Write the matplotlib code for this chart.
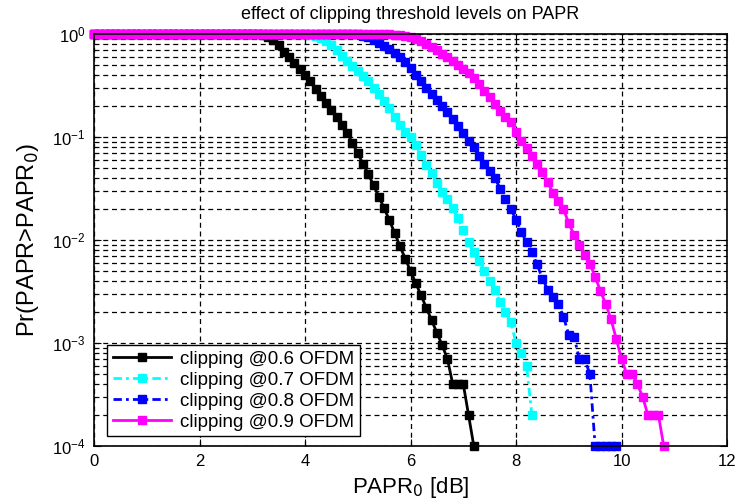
import matplotlib.pyplot as plt
import numpy as np
from matplotlib.ticker import LogLocator, NullFormatter, FixedLocator

# CCDF of PAPR, 0.1 dB step, starting at 0 dB
step = 0.1

ccdf_06 = [1.0] * 31 + [
    0.99, 0.977, 0.933, 0.871, 0.776, 0.676, 0.603, 0.525, 0.457, 0.398,
    0.347, 0.295, 0.251, 0.214, 0.182, 0.155, 0.132, 0.110, 0.0871, 0.0692,
    0.0550, 0.0437, 0.0339, 0.0263, 0.0204, 0.0155, 0.0117, 0.0087, 0.0066, 0.0050,
    0.0038, 0.0029, 0.0022, 0.00166, 0.00126, 0.00095, 0.0007, 0.0004, 0.0004, 0.0004,
    0.0002, 0.0001]

ccdf_07 = [1.0] * 41 + [
    0.977, 0.955, 0.912, 0.851, 0.776, 0.692, 0.617, 0.550, 0.490, 0.436,
    0.389, 0.347, 0.302, 0.263, 0.224, 0.191, 0.158, 0.132, 0.112, 0.100,
    0.0832, 0.0676, 0.0537, 0.0447, 0.0355, 0.0295, 0.0251, 0.0204, 0.0162, 0.0126,
    0.0095, 0.0076, 0.0063, 0.0050, 0.0040, 0.0033, 0.0025, 0.0020, 0.0016, 0.0010,
    0.0008, 0.0006, 0.0002]

ccdf_08 = [1.0] * 50 + [
    0.99, 0.966, 0.933, 0.871, 0.813, 0.759, 0.708, 0.661, 0.603, 0.537,
    0.468, 0.398, 0.347, 0.302, 0.263, 0.229, 0.200, 0.174, 0.148, 0.129,
    0.110, 0.0912, 0.0794, 0.0661, 0.0550, 0.0468, 0.0398, 0.0316, 0.0251, 0.0200,
    0.0158, 0.0120, 0.0095, 0.0076, 0.0058, 0.0042, 0.0033, 0.0028, 0.0024, 0.0018,
    0.0012, 0.00115, 0.0007, 0.0007, 0.0005, 0.0001, 0.0001, 0.0001, 0.0001, 0.0001]

ccdf_09 = [1.0] * 56 + [
    0.993, 0.986, 0.977, 0.955, 0.933, 0.891, 0.851, 0.794, 0.741, 0.692,
    0.646, 0.603, 0.550, 0.501, 0.457, 0.417, 0.372, 0.324, 0.282, 0.245,
    0.209, 0.178, 0.155, 0.141, 0.112, 0.0912, 0.0776, 0.0661, 0.0550, 0.0457,
    0.0363, 0.0288, 0.0240, 0.0200, 0.0145, 0.0112, 0.0089, 0.0072, 0.0059, 0.0044,
    0.0032, 0.0024, 0.0017, 0.0011, 0.0007, 0.0005, 0.0005, 0.0004, 0.0003, 0.0002,
    0.0002, 0.0002, 0.0001]

dashdot = (0, (3, 1.5, 1, 1.5))
series = [
    (ccdf_06, 'k', '-', 'clipping @0.6 OFDM'),
    (ccdf_07, '#00FFFF', dashdot, 'clipping @0.7 OFDM'),
    (ccdf_08, '#0000FF', dashdot, 'clipping @0.8 OFDM'),
    (ccdf_09, '#FF00FF', '-', 'clipping @0.9 OFDM'),
]

plt.rcParams['font.family'] = ['Liberation Sans', 'DejaVu Sans']

fig = plt.figure(figsize=(7.39, 5.01), dpi=100)
ax = fig.add_axes([0.1272, 0.1098, 0.9838 - 0.1272, 0.9321 - 0.1098])

for ccdf, color, ls, label in series:
    papr0 = np.arange(len(ccdf)) * step
    ax.semilogy(papr0, ccdf, color=color, ls=ls, lw=2, marker='s',
                markersize=5.5, markerfacecolor=color, markeredgecolor=color,
                label=label, clip_on=False)

ax.set_xlim(0, 12)
ax.set_ylim(1e-4, 1)
ax.xaxis.set_major_locator(FixedLocator(np.arange(0, 13, 2)))
ax.yaxis.set_major_locator(LogLocator(base=10, numticks=10))
ax.yaxis.set_minor_locator(LogLocator(base=10, subs=np.arange(2, 10), numticks=10))
ax.yaxis.set_minor_formatter(NullFormatter())

ax.grid(True, which='major', color='k', ls=(0, (4, 3)), lw=0.9)
ax.grid(True, which='minor', axis='y', color='k', ls=(0, (4, 3)), lw=0.9)
ax.tick_params(which='both', direction='in', top=True, right=True,
               labelsize=12, colors='k')
ax.tick_params(which='major', length=5, pad=6)
ax.tick_params(which='minor', length=3)
for sp in ax.spines.values():
    sp.set_linewidth(1.2)

ax.set_title('effect of clipping threshold levels on PAPR', fontsize=13, pad=11)
ax.set_xlabel('PAPR$_0$ [dB]', fontsize=16, labelpad=4)
ax.set_ylabel('Pr(PAPR>PAPR$_0$)', fontsize=17, labelpad=8)

leg = ax.legend(loc='lower left', bbox_to_anchor=(0.012, 0.01), fontsize=13.5,
                handlelength=3.1, fancybox=False, framealpha=1,
                edgecolor='k', borderaxespad=0.3, labelspacing=0.2,
                borderpad=0.3, handletextpad=0.5)
leg.get_frame().set_linewidth(1.0)

fig.savefig('out.png', dpi=100)
